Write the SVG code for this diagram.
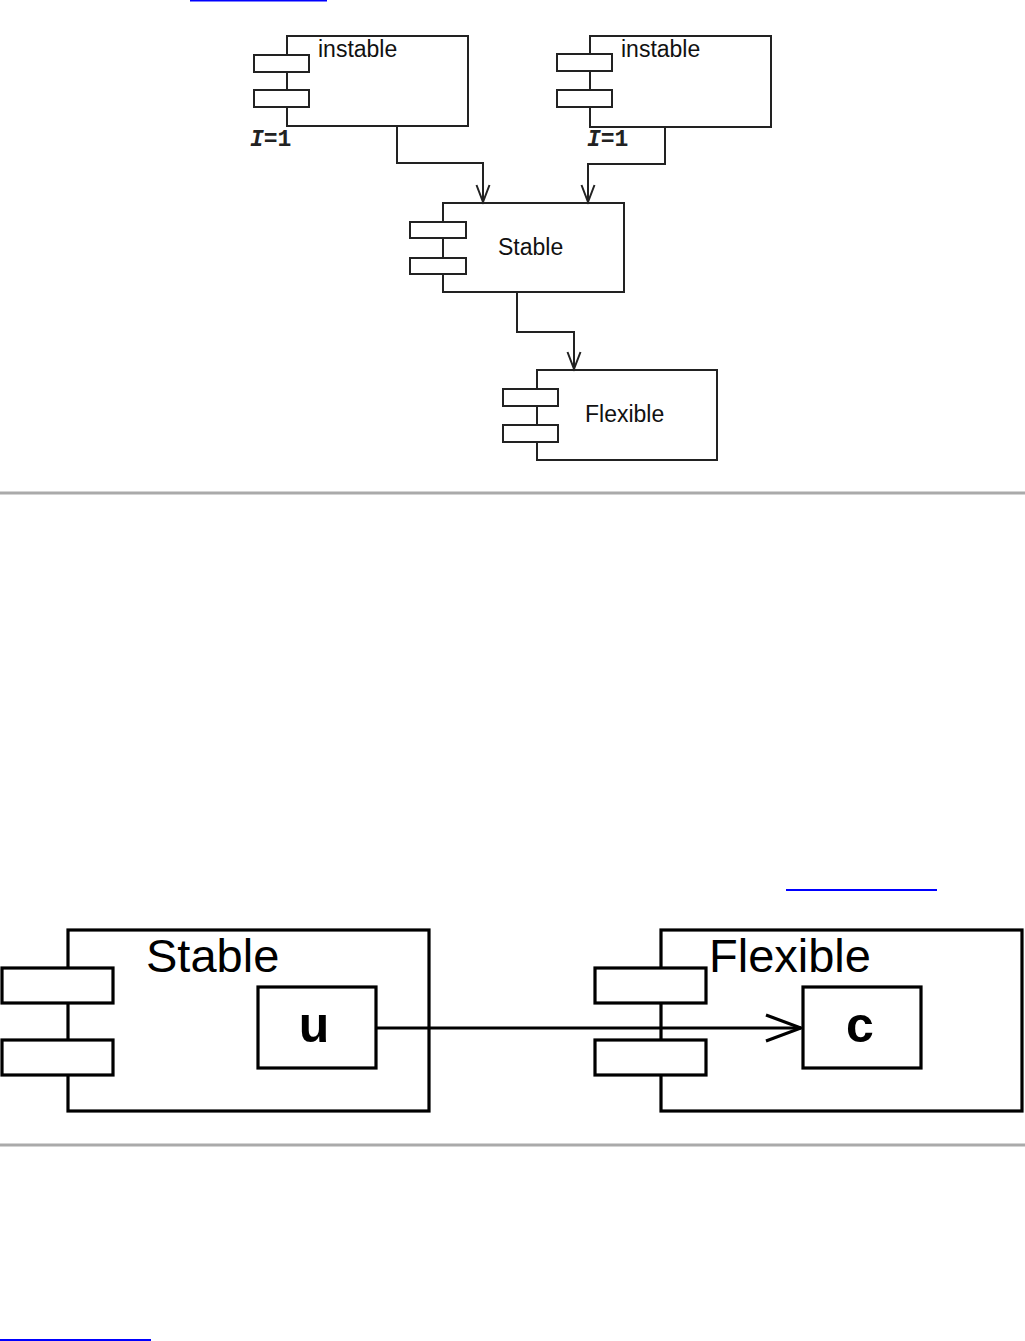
<svg xmlns="http://www.w3.org/2000/svg" width="1025" height="1341" viewBox="0 0 1025 1341">
<style>
.box{fill:#fff;stroke:#222;stroke-width:2}
.bbox{fill:#fff;stroke:#000;stroke-width:3.2}
.lbl{font-family:"Liberation Sans",Arial,sans-serif;font-size:23px;fill:#111}
.big{font-family:"Liberation Sans",Arial,sans-serif;font-size:47px;fill:#000}
.bold{font-family:"Liberation Sans",Arial,sans-serif;font-size:50px;font-weight:bold;fill:#000}
.ival{font-family:"Liberation Mono","Courier New",monospace;font-size:23px;font-weight:bold;fill:#222}
.conn{fill:none;stroke:#222;stroke-width:2}
.bconn{fill:none;stroke:#000;stroke-width:3}
.sep{stroke:#aaa;stroke-width:3}
.link{stroke:#00f;stroke-width:2}
</style>
<defs>
<marker id="arr" markerWidth="22" markerHeight="18" refX="18" refY="7.5" orient="auto" markerUnits="userSpaceOnUse">
<path d="M1,1 L18,7.5 L1,14" fill="none" stroke="#222" stroke-width="2"/>
</marker>
<marker id="barr" markerWidth="40" markerHeight="32" refX="37" refY="15" orient="auto" markerUnits="userSpaceOnUse">
<path d="M2,2 L37,15 L2,28" fill="none" stroke="#000" stroke-width="3.2"/>
</marker>
</defs>
<line class="link" x1="190" y1="0.5" x2="327" y2="0.5"/>
<line class="sep" x1="0" y1="493" x2="1025" y2="493"/>
<line class="link" x1="786" y1="890" x2="937" y2="890" stroke-width="1.5"/>
<line class="sep" x1="0" y1="1145" x2="1025" y2="1145"/>
<line class="link" x1="0" y1="1340" x2="151" y2="1340"/>

<g id="instable1">
<rect class="box" x="287" y="36" width="181" height="90"/>
<rect class="box" x="254" y="55" width="55" height="17"/>
<rect class="box" x="254" y="90" width="55" height="17"/>
<text class="lbl" x="318" y="57">instable</text>
<text class="ival" x="250" y="146"><tspan font-style="italic">I</tspan>=1</text>
</g>
<g id="instable2">
<rect class="box" x="590" y="36" width="181" height="91"/>
<rect class="box" x="557" y="54" width="55" height="17"/>
<rect class="box" x="557" y="90" width="55" height="17"/>
<text class="lbl" x="621" y="57">instable</text>
<text class="ival" x="587" y="146"><tspan font-style="italic">I</tspan>=1</text>
</g>
<g id="stable">
<rect class="box" x="443" y="203" width="181" height="89"/>
<rect class="box" x="410" y="222" width="56" height="16"/>
<rect class="box" x="410" y="258" width="56" height="16"/>
<text class="lbl" x="498" y="255">Stable</text>
</g>
<g id="flexible">
<rect class="box" x="537" y="370" width="180" height="90"/>
<rect class="box" x="503" y="389" width="55" height="17"/>
<rect class="box" x="503" y="425" width="55" height="17"/>
<text class="lbl" x="585" y="422">Flexible</text>
</g>

<g id="stable2">
<rect class="bbox" x="68" y="930" width="361" height="181"/>
<rect class="bbox" x="2" y="968" width="111" height="35"/>
<rect class="bbox" x="2" y="1040" width="111" height="35"/>
<text class="big" x="146" y="972">Stable</text>
</g>
<g id="u">
<rect class="bbox" x="258" y="987" width="118" height="81"/>
<text class="bold" x="314" y="1042" text-anchor="middle">u</text>
</g>
<g id="flexible2">
<rect class="bbox" x="661" y="930" width="361" height="181"/>
<rect class="bbox" x="595" y="968" width="111" height="35"/>
<rect class="bbox" x="595" y="1040" width="111" height="35"/>
<text class="big" x="709" y="972">Flexible</text>
</g>
<g id="c">
<rect class="bbox" x="803" y="987" width="118" height="81"/>
<text class="bold" x="860" y="1042" text-anchor="middle">c</text>
</g>

<g id="connectors">
<path class="conn" d="M397,126 V163 H483 V202" marker-end="url(#arr)"/>
<path class="conn" d="M665,127 V164 H588 V202" marker-end="url(#arr)"/>
<path class="conn" d="M517,292 V332 H574 V369" marker-end="url(#arr)"/>
<path class="bconn" d="M376,1028 H801" marker-end="url(#barr)"/>
</g>
</svg>
